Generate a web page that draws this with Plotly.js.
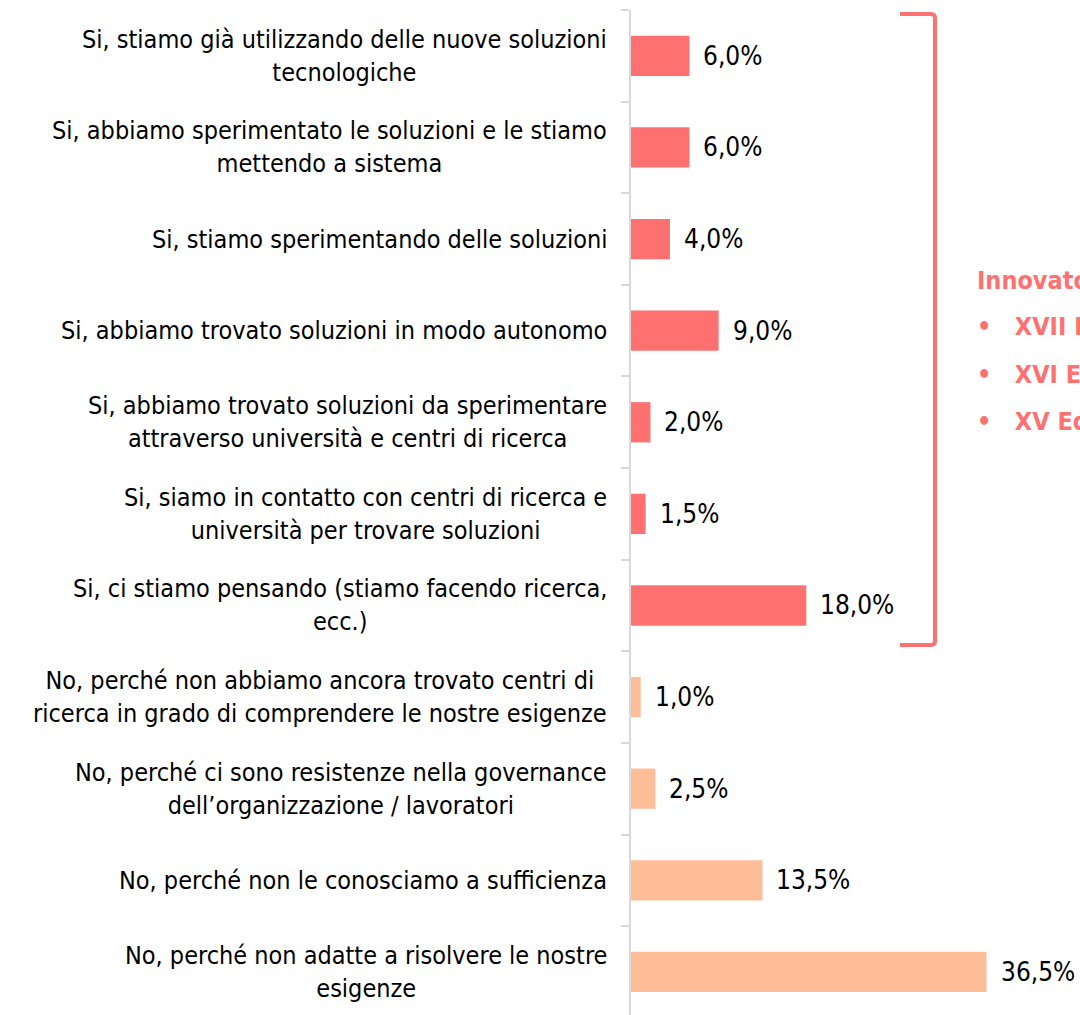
<!DOCTYPE html>
<html>
<head>
<meta charset="utf-8">
<script src="https://cdn.plot.ly/plotly-3.0.1.min.js"></script>
<style>
  html, body { margin: 0; padding: 0; background: #fff; }
  #chart { width: 1080px; height: 1015px; }
</style>
</head>
<body>
<div id="chart"></div>
<script>
// Risposte (dall'alto verso il basso)
const categories = [
    'Si, stiamo già utilizzando delle nuove soluzioni<br>tecnologiche',
    'Si, abbiamo sperimentato le soluzioni e le stiamo<br>mettendo a sistema',
    'Si, stiamo sperimentando delle soluzioni',
    'Si, abbiamo trovato soluzioni in modo autonomo',
    'Si, abbiamo trovato soluzioni da sperimentare<br>attraverso università e centri di ricerca',
    'Si, siamo in contatto con centri di ricerca e<br>università per trovare soluzioni',
    'Si, ci stiamo pensando (stiamo facendo ricerca,<br>ecc.)',
    'No, perché non abbiamo ancora trovato centri di<br>ricerca in grado di comprendere le nostre esigenze',
    'No, perché ci sono resistenze nella governance<br>dell’organizzazione / lavoratori',
    'No, perché non le conosciamo a sufficienza',
    'No, perché non adatte a risolvere le nostre<br>esigenze'
];
const values = [6.0, 6.0, 4.0, 9.0, 2.0, 1.5, 18.0, 1.0, 2.5, 13.5, 36.5];
const isYes = [true, true, true, true, true, true, true, false, false, false, false];

const sideTitle = 'Innovatori';
const sideItems = ['XVII Edizione', 'XVI Edizione', 'XV Edizione'];

const yesColor = '#ff7171';
const noColor = '#ffbe98';
const font = '"DejaVu Sans Condensed", "Liberation Sans", sans-serif';

const trace = {
    x: values,
    y: categories,
    type: 'bar',
    orientation: 'h',
    marker: {color: isYes.map(v => v ? yesColor : noColor)},
    hoverinfo: 'skip'
};

// category labels, centred lines, right-aligned block
const annotations = categories.map(c => ({
    x: 0, xref: 'paper', y: c, yref: 'y',
    text: c, showarrow: false,
    xanchor: 'right', align: 'center', xshift: -22,
    font: {family: font, size: 25, color: '#000'}
}));

// value labels
values.forEach((v, i) => {
    annotations.push({
        x: v, xref: 'x', y: categories[i], yref: 'y',
        text: v.toFixed(1).replace('.', ',') + '%',
        showarrow: false, xanchor: 'left', xshift: 12,
        font: {family: font, size: 26, color: '#000'}
    });
});

// side legend text (cut by the right edge, as in the original)
annotations.push({
    x: 975, xref: 'paper', y: 280, yref: 'paper',
    text: '<b>' + sideTitle + '</b>', showarrow: false,
    xanchor: 'left', yanchor: 'middle',
    font: {family: font, size: 25, color: yesColor}
});
sideItems.forEach((s, i) => {
    annotations.push({
        x: 975, xref: 'paper', y: 327 + i * 47, yref: 'paper',
        text: '<b>•   ' + s + '</b>', showarrow: false,
        xanchor: 'left', yanchor: 'middle',
        font: {family: font, size: 25, color: yesColor}
    });
});

const layout = {
    width: 1080,
    height: 1015,
    margin: {l: 631, r: 0, t: 10, b: 0},
    paper_bgcolor: '#fff',
    plot_bgcolor: '#fff',
    showlegend: false,
    bargap: 0.56,
    xaxis: {range: [0, 46.1], visible: false, fixedrange: true},
    yaxis: {
        type: 'category',
        range: [10.47, -0.5],
        showline: true, linecolor: '#d9d9d9', linewidth: 2,
        ticks: 'outside', ticklen: 8, tickcolor: '#d9d9d9', tickwidth: 2,
        tickson: 'boundaries',
        showticklabels: false, showgrid: false, zeroline: false
    },
    annotations: annotations,
    shapes: [{
        type: 'path', xref: 'paper', yref: 'paper',
        path: 'M 900 14 L 931 14 Q 935 14 935 18 L 935 641 Q 935 645 931 645 L 900 645',
        line: {color: yesColor, width: 4}
    }]
};

// paper coords for annotations/shapes given in pixels: convert
function px(xp, yp) {
    const w = 1080 - 631, h = 1015 - 10;
    return [(xp - 631) / w, 1 - (yp - 10) / h];
}
layout.annotations.forEach(a => {
    if (a.xref === 'paper' && a.yref === 'paper') {
        const p = px(a.x, a.y);
        a.x = p[0]; a.y = p[1];
    }
});
layout.shapes[0].path = layout.shapes[0].path.replace(/(\d+) (\d+)/g, (m, a, b) => {
    const p = px(+a, +b);
    return p[0].toFixed(4) + ' ' + p[1].toFixed(4);
});

Plotly.newPlot('chart', [trace], layout, {displayModeBar: false, staticPlot: true});
</script>
</body>
</html>
